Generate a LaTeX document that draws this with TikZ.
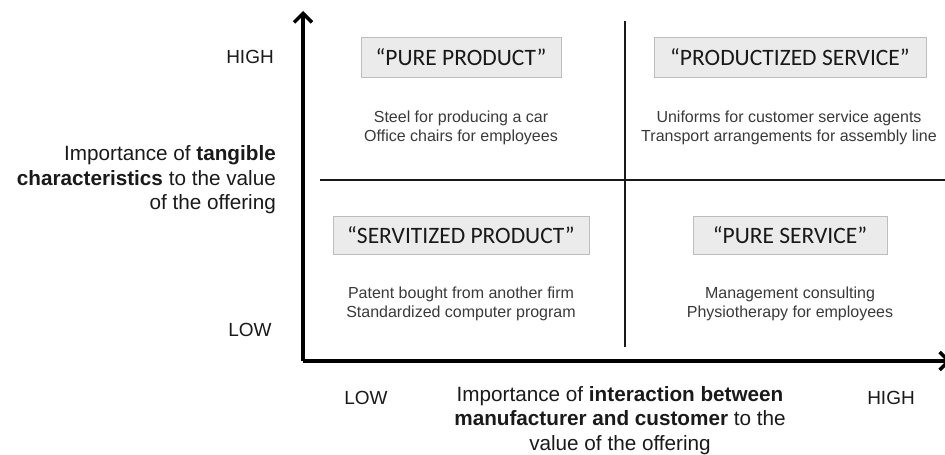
\documentclass[tikz,border=0pt]{standalone}
\usepackage{fontspec}
\setmainfont{Liberation Sans}
\newfontfamily\calibrifont{Carlito}
\usetikzlibrary{arrows.meta}
\definecolor{boxfill}{HTML}{EBEBEB}
\definecolor{boxline}{HTML}{BDBDBD}
\definecolor{bodytext}{HTML}{3A3A3A}
\definecolor{labeltext}{HTML}{1A1A1A}
\begin{document}
\begin{tikzpicture}[x=1pt,y=-1pt,
  axisline/.style={line width=3.5pt,-{Straight Barb[length=9pt,width=18pt]}},
  divider/.style={line width=2pt,draw=black!90},
  catbox/.style={draw=boxline,fill=boxfill,line width=0.8pt,inner sep=0pt,
     font=\calibrifont\fontsize{23.5}{26}\selectfont,text=black!90},
  example/.style={inner sep=0pt,align=center,text=bodytext,
     font=\fontsize{16}{18.5}\selectfont},
  levellabel/.style={inner sep=0pt,text=labeltext,
     font=\fontsize{19}{24}\selectfont},
  axislabel/.style={inner sep=0pt,text=labeltext,
     font=\fontsize{20.7}{24.5}\selectfont}
]
\useasboundingbox (0,0) rectangle (945,455);
\clip (0,0) rectangle (945,455);
\fill[white] (0,0) rectangle (945,455);
% axes
\coordinate (origin) at (303,361);
\coordinate (ytip) at (303,11);
\coordinate (xtip) at (951,361);
\draw[axisline] (origin) -- (ytip);
\draw[axisline] (origin) -- (xtip);
% dividers
\coordinate (vtop) at (625,21);
\coordinate (vbot) at (625,347);
\coordinate (hleft) at (320,180);
\coordinate (hright) at (946,180);
\draw[divider] (vtop) -- (vbot);
\draw[divider] (hleft) -- (hright);
% boxes
\node[catbox,minimum width=200pt,minimum height=40pt] (pp) at (461,57) {“PURE PRODUCT”};
\node[catbox,minimum width=272pt,minimum height=40pt] (ps) at (790,57) {“PRODUCTIZED SERVICE”};
\node[catbox,minimum width=256pt,minimum height=38pt] (sp) at (461,235) {“SERVITIZED PRODUCT”};
\node[catbox,minimum width=194pt,minimum height=38pt] (pse) at (790,235) {“PURE SERVICE”};
% examples
\node[example] (ex1) at (461,128) {Steel for producing a car\\Office chairs for employees};
\node[example] (ex2) at (789,128) {Uniforms for customer service agents\\Transport arrangements for assembly line};
\node[example] (ex3) at (461,304) {Patent bought from another firm\\Standardized computer program};
\node[example] (ex4) at (790,304) {Management consulting\\Physiotherapy for employees};
% axis labels
\node[levellabel] (yhigh) at (250,57) {HIGH};
\node[levellabel] (ylow) at (250,330) {LOW};
\node[axislabel,align=right,anchor=east] (ylab) at (276,180) {Importance of \textbf{tangible}\\\textbf{characteristics} to the value\\of the offering};
\node[levellabel] (xlow) at (366,398) {LOW};
\node[levellabel] (xhigh) at (891,398) {HIGH};
\node[axislabel,align=center,anchor=north] (xlab) at (620,386) {Importance of \textbf{interaction between}\\\textbf{manufacturer and customer} to the\\value of the offering};
\end{tikzpicture}
\end{document}
